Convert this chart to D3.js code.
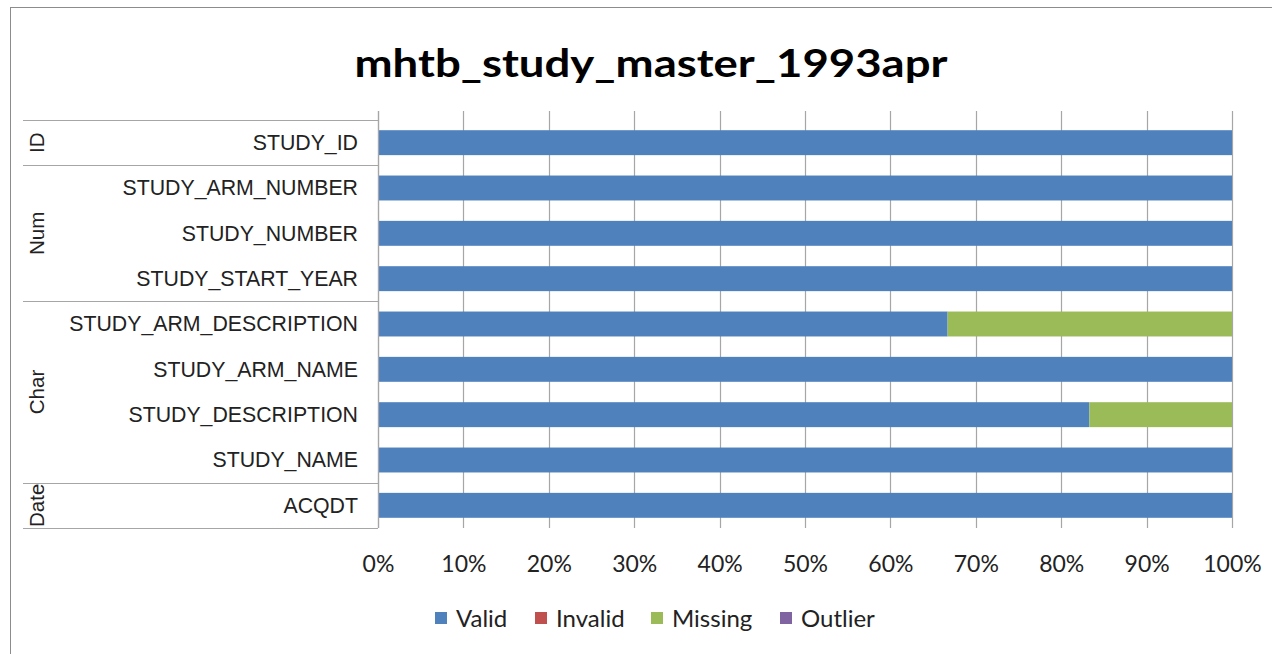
<!DOCTYPE html>
<html><head><meta charset="utf-8">
<script src="https://cdn.jsdelivr.net/npm/d3@7/dist/d3.min.js"></script>
<style>body{margin:0;background:#fff}svg{display:block}</style>
</head><body><svg id="c" width="1272" height="654"></svg>
<script>
const title = "mhtb_study_master_1993apr";
const categories = ["STUDY_ID","STUDY_ARM_NUMBER","STUDY_NUMBER","STUDY_START_YEAR","STUDY_ARM_DESCRIPTION","STUDY_ARM_NAME","STUDY_DESCRIPTION","STUDY_NAME","ACQDT"];
const groups = [{name:"ID",count:1},{name:"Num",count:3},{name:"Char",count:4},{name:"Date",count:1}];
const seriesNames = ["Valid","Invalid","Missing","Outlier"];
const validVals   = [1,1,1,1,0.667,1,0.833,1,1];
const invalidVals = [0,0,0,0,0,0,0,0,0];
const missingVals = [0,0,0,0,0.333,0,0.167,0,0];
const outlierVals = [0,0,0,0,0,0,0,0,0];
const tickValues = [0,0.1,0.2,0.3,0.4,0.5,0.6,0.7,0.8,0.9,1.0];
const colors = ["#4F81BD","#C0504D","#9BBB59","#8064A2"];

const svg = d3.select("#c");
const x0 = 378, x1 = 1232, y0 = 120, y1 = 528;
const x = d3.scaleLinear().domain([0,1]).range([x0,x1]);
const y = d3.scaleBand().domain(categories).range([y0,y1]).paddingInner(0.45).paddingOuter(0.225);

// outer border
svg.append("rect").attr("x",10.5).attr("y",7.5).attr("width",1262).attr("height",660)
  .attr("fill","none").attr("stroke","#8c8c8c").attr("stroke-width",1);

// title
svg.append("text").attr("x",651).attr("y",77).attr("text-anchor","middle")
  .attr("font-family","Lato, 'Open Sans', sans-serif").attr("font-weight","bold").attr("font-size",39)
  .attr("textLength",593).attr("lengthAdjust","spacingAndGlyphs").attr("fill","#000").text(title);

// gridlines
svg.append("g").selectAll("line").data(tickValues).join("line")
  .attr("x1",d=>Math.round(x(d))+0.5).attr("x2",d=>Math.round(x(d))+0.5)
  .attr("y1",y0-9).attr("y2",y1).attr("stroke","#a6a6a6").attr("stroke-width",1.2);

// stacked bars
const stackData = categories.map((c,i)=>({cat:c, Valid:validVals[i], Invalid:invalidVals[i], Missing:missingVals[i], Outlier:outlierVals[i]}));
const stacked = d3.stack().keys(seriesNames)(stackData);
svg.append("g").selectAll("g").data(stacked).join("g").attr("fill",(d,i)=>colors[i])
  .selectAll("rect").data(d=>d).join("rect")
  .attr("x",d=>x(d[0])).attr("width",d=>Math.max(0,x(d[1])-x(d[0])))
  .attr("y",d=>y(d.data.cat)).attr("height",y.bandwidth());

// category axis line
svg.append("line").attr("x1",x0+0.5).attr("x2",x0+0.5).attr("y1",y0-9).attr("y2",y1)
  .attr("stroke","#a6a6a6").attr("stroke-width",1.2);

// category labels
svg.append("g").selectAll("text").data(categories).join("text")
  .attr("x",358).attr("y",d=>y(d)+y.bandwidth()/2).attr("dy","0.34em")
  .attr("text-anchor","end").attr("font-family","'Liberation Sans', Arial, sans-serif")
  .attr("font-size",21.3).attr("fill","#222").text(d=>d);

// group dividers & labels
const step = y.step();
let acc = 0;
const bounds = [0];
groups.forEach(g=>{acc+=g.count; bounds.push(acc);});
svg.append("g").selectAll("line").data(bounds).join("line")
  .attr("x1",23).attr("x2",x0).attr("y1",d=>Math.round(y0+d*step)+0.5).attr("y2",d=>Math.round(y0+d*step)+0.5)
  .attr("stroke","#a6a6a6").attr("stroke-width",1.2);
svg.append("g").selectAll("text").data(groups).join("text")
  .attr("transform",(g,i)=>{const cy=y0+(bounds[i]+g.count/2)*step; return `translate(44,${cy}) rotate(-90)`;})
  .attr("text-anchor","middle").attr("font-family","'Liberation Sans', Arial, sans-serif")
  .attr("font-size",20.5).attr("fill","#222").text(g=>g.name);

// x axis tick labels
const xAxis = d3.axisBottom(x).tickValues(tickValues).tickFormat(d3.format(".0%")).tickSize(0).tickPadding(0);
const ax = svg.append("g").attr("transform",`translate(0,${y1})`).call(xAxis);
ax.select(".domain").remove();
ax.selectAll("text").attr("dy",null).attr("y",44).attr("font-family","Lato, 'Open Sans', sans-serif")
  .attr("font-size",23).attr("fill","#222");

// legend
const legX = [435,535,651,780];
const leg = svg.append("g").selectAll("g").data(seriesNames).join("g")
  .attr("transform",(d,i)=>`translate(${legX[i]},612)`);
leg.append("rect").attr("width",12).attr("height",12).attr("fill",(d,i)=>colors[i]);
leg.append("text").attr("x",21).attr("y",15).attr("font-family","Lato, 'Open Sans', sans-serif")
  .attr("font-size",24).attr("fill","#222").text(d=>d);
</script></body></html>
